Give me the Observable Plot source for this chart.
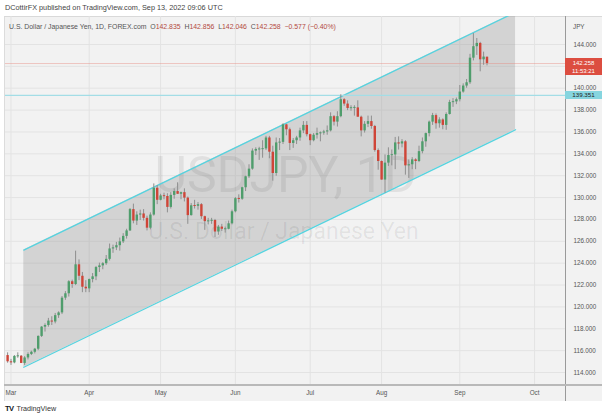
<!DOCTYPE html>
<html><head><meta charset="utf-8">
<script src="https://cdn.jsdelivr.net/npm/d3@7"></script>
<script src="https://cdn.jsdelivr.net/npm/@observablehq/plot@0.6"></script>
<style>
body{margin:0;background:#fff;font-family:"Liberation Sans",Arial,sans-serif;}
#wrap{position:relative;width:602px;height:418px;overflow:hidden;}
#bg{position:absolute;left:4px;top:16px;width:598px;height:385px;background:#f2f2f2;border-top:1px solid #d9d9d9;border-left:1px solid #dcdcdc;box-sizing:border-box;z-index:0;}
#chart{position:absolute;left:0;top:0;z-index:1;}
.abs{position:absolute;white-space:nowrap;z-index:3;}
#title{left:5px;top:3px;font-size:7.3px;color:#444;}
#legend{left:9px;top:23px;font-size:6.9px;color:#555;}
#legend .v{color:#b24a3e;}
#jpy{left:573px;top:23px;font-size:6.3px;color:#555;}
#vsep{position:absolute;left:565px;top:16px;width:1px;height:385px;background:#9a9a9a;z-index:2;}
#hsep{position:absolute;left:4px;top:384px;width:598px;height:1.5px;background:#b9b9b9;z-index:2;}
#logo{left:5px;top:404px;font-size:7.2px;color:#333;}
#logo b{font-size:7.6px;color:#131722;letter-spacing:-0.6px;margin-right:3px;}
.box{position:absolute;left:565px;width:37px;text-align:center;font-size:6.2px;z-index:3;box-sizing:border-box;}
</style></head><body><div id="wrap">
<div id="bg"></div>
<div id="vsep"></div><div id="hsep"></div>
<div class="abs" id="title">DCottirFX published on TradingView.com, Sep 13, 2022 09:06 UTC</div>
<div class="abs" id="legend">U.S. Dollar / Japanese Yen, 1D, FOREX.com &nbsp;O<span class="v">142.835</span> &nbsp;H<span class="v">142.856</span> &nbsp;L<span class="v">142.046</span> &nbsp;C<span class="v">142.258</span> &nbsp;<span class="v">−0.577 (−0.40%)</span></div>
<div class="abs" id="jpy">JPY</div>
<div class="abs" id="logo"><b>TV</b>TradingView</div>
</div>
<script>
// bar index 0 = Feb 28 2022 ... 141 = Sep 13 2022 (trading days)
const opens = [115.55,114.98,114.88,115.47,115.49,114.83,115.33,115.65,115.85,116.13,117.30,118.15,118.30,118.70,118.62,119.20,119.45,120.80,121.20,122.30,122.05,123.85,122.80,121.80,121.65,122.50,122.75,123.60,123.75,123.95,124.35,125.30,125.40,125.60,125.95,126.45,126.95,128.90,127.85,128.40,128.50,128.10,127.20,128.40,130.85,129.75,130.15,130.10,129.10,130.20,130.55,130.30,130.45,129.95,128.35,129.25,129.20,129.35,128.25,127.80,127.85,127.90,126.85,127.30,127.10,127.10,127.60,128.70,129.90,129.85,130.90,131.90,132.60,134.25,134.40,134.40,134.45,135.45,134.15,132.20,135.00,135.05,136.65,136.20,134.95,135.20,135.45,136.10,136.60,135.75,135.20,135.70,135.85,135.90,136.00,136.10,137.40,136.90,137.40,138.95,138.55,138.15,138.20,138.20,137.35,136.10,136.70,136.95,136.50,134.30,133.30,131.60,133.15,133.85,133.90,135.00,134.90,135.10,132.90,133.00,133.45,133.30,134.20,135.10,135.85,136.90,137.50,136.75,137.10,136.60,137.60,138.70,138.75,138.95,139.65,140.20,140.50,142.75,143.80,144.10,142.60,142.835];
const highs = [115.80,115.20,115.55,115.80,115.55,115.45,115.80,115.95,116.20,117.35,118.20,118.45,118.95,119.10,119.40,119.55,120.95,121.40,122.40,122.45,125.10,124.30,123.15,122.40,122.55,123.05,123.70,124.00,124.05,124.70,125.75,125.65,125.90,126.30,126.70,127.10,129.00,129.40,128.70,128.85,128.90,128.30,128.60,131.25,131.10,130.30,130.40,130.35,130.45,130.80,131.35,130.50,130.80,130.05,129.45,129.75,129.55,129.45,128.30,128.10,128.10,128.00,127.45,127.55,127.30,127.85,128.85,130.00,130.25,130.95,131.95,133.00,134.45,134.55,134.60,135.20,135.60,135.60,134.70,135.45,135.40,136.75,136.70,136.35,135.40,135.60,136.35,136.95,136.95,135.80,135.85,136.35,136.00,136.15,136.55,137.75,137.50,137.85,139.40,139.05,138.85,138.40,138.40,138.85,137.45,136.95,137.45,137.45,136.60,134.45,133.35,133.90,134.55,134.35,135.50,135.55,135.30,135.20,133.45,133.65,133.55,134.70,135.45,135.90,137.00,137.70,137.65,137.30,137.20,137.75,138.90,139.05,139.10,140.25,140.40,140.80,143.10,145.00,144.55,144.20,143.30,142.856];
const lows = [114.85,114.65,114.80,115.30,114.82,114.65,115.15,115.55,115.70,116.00,117.20,117.70,118.15,118.30,118.45,118.95,119.30,120.60,120.90,121.70,121.95,122.40,121.30,121.30,121.30,122.20,122.40,123.15,123.40,123.80,124.20,124.90,125.15,125.10,125.80,126.20,126.90,127.60,127.45,127.90,127.85,126.95,127.05,128.30,129.35,129.70,129.80,128.60,128.95,129.85,130.30,129.80,129.60,127.55,128.30,128.95,128.85,128.00,127.00,127.50,127.55,126.35,126.55,126.90,126.75,127.05,127.50,128.60,129.50,129.75,130.55,131.75,132.50,133.85,133.40,133.60,134.30,133.55,131.50,131.95,134.30,134.85,135.65,134.30,134.50,134.85,135.15,135.85,135.55,134.75,135.10,135.35,135.10,135.70,135.70,136.00,136.55,136.45,137.30,138.35,137.95,137.90,137.45,137.35,135.55,135.90,136.40,136.25,134.15,132.50,131.60,130.40,132.85,132.90,132.55,134.35,134.55,132.05,131.75,132.55,132.55,133.20,134.00,134.60,135.55,136.60,136.25,136.35,136.20,136.15,137.55,138.25,138.50,138.75,139.55,140.00,140.35,142.50,143.00,141.50,142.10,142.046];
const closes = [114.98,114.88,115.47,115.49,114.83,115.33,115.65,115.85,116.13,117.30,118.15,118.30,118.70,118.62,119.20,119.45,120.80,121.20,122.30,122.05,123.85,122.80,121.80,121.65,122.50,122.75,123.60,123.75,123.95,124.35,125.30,125.40,125.60,125.95,126.45,126.95,128.90,127.85,128.40,128.50,128.10,127.20,128.40,130.85,129.75,130.15,130.10,129.10,130.20,130.55,130.30,130.45,129.95,128.35,129.25,129.20,129.35,128.25,127.80,127.85,127.90,126.85,127.30,127.10,127.10,127.60,128.70,129.90,129.85,130.90,131.90,132.60,134.25,134.40,134.40,134.45,135.45,134.15,132.20,135.00,135.05,136.65,136.20,134.95,135.20,135.45,136.10,136.60,135.75,135.20,135.70,135.85,135.90,136.00,136.10,137.40,136.90,137.40,138.95,138.55,138.15,138.20,138.20,137.35,136.10,136.70,136.95,136.50,134.30,133.30,131.60,133.15,133.85,133.90,135.00,134.90,135.10,132.90,133.00,133.45,133.30,134.20,135.10,135.85,136.90,137.50,136.75,137.10,136.60,137.60,138.70,138.75,138.95,139.65,140.20,140.50,142.75,143.80,144.10,142.60,142.85,142.258];

const gridTicks = [114,116,118,120,122,124,126,128,130,132,134,136,138,140,142,144];
// 142.000 is hidden under the last-price label in the reference
const yTickLabels = [114,116,118,120,122,124,126,128,130,132,134,136,138,140,144];
const monthIdx = [1,24,45,67,89,110,133,155];
const monthLabels = ["Mar","Apr","May","Jun","Jul","Aug","Sep","Oct"];

const channelIdx = [4.76, 149.4];
const channelLow = [114.48, 136.2];
const channelHigh = [125.2, 146.95];

const lastPrice = 142.258;
const lastTime = "11:53:21";
const levelPrice = 139.351;

const bars = opens.map((o, i) => ({i, o, h: highs[i], l: lows[i], c: closes[i]}));
const chan = channelIdx.map((x, k) => ({x, lo: channelLow[k], hi: channelHigh[k]}));
const minB = 0.09;
const b1 = d => Math.abs(d.c - d.o) < minB ? (d.o + d.c) / 2 - minB / 2 : d.o;
const b2 = d => Math.abs(d.c - d.o) < minB ? (d.o + d.c) / 2 + minB / 2 : d.c;

const UP = "#4f9d6c", DOWN = "#cf4538";

const plot = Plot.plot({
  width: 602, height: 418,
  marginLeft: 5, marginRight: 37, marginTop: 16, marginBottom: 34,
  style: {background: "transparent", fontFamily: "Liberation Sans, Arial, sans-serif", color: "#555"},
  x: {domain: [1, 155], range: [10.5, 10.5 + 154 * 3.4]},
  y: {domain: [114, 144], range: [372, 44]},
  marks: [
    Plot.gridY(gridTicks, {stroke: "#e3e3e3", strokeOpacity: 1}),
    Plot.gridX(monthIdx, {stroke: "#e3e3e3", strokeOpacity: 1}),
    Plot.areaY(chan, {x: "x", y1: "lo", y2: "hi", fill: "#9c9c9c", fillOpacity: 0.36, clip: true}),
    Plot.text(["USDJPY, 1D"], {text: d => d, frameAnchor: "middle", dy: -25, fontSize: 50, fontFamily: "Roboto", fill: "#000", fillOpacity: 0.07}),
    Plot.text(["U.S. Dollar / Japanese Yen"], {text: d => d, frameAnchor: "middle", dy: 31, dx: -2, fontSize: 23, fontFamily: "Roboto", fill: "#000", fillOpacity: 0.07}),
    Plot.line(chan, {x: "x", y: "lo", stroke: "#55d3df", strokeWidth: 1.3, clip: true}),
    Plot.line(chan, {x: "x", y: "hi", stroke: "#55d3df", strokeWidth: 1.3, clip: true}),
    Plot.ruleY([levelPrice], {stroke: "#a3dde6", strokeWidth: 1.2}),
    Plot.ruleY([lastPrice], {stroke: "#e8877f", strokeOpacity: 0.55, strokeWidth: 0.8}),
    Plot.ruleX(bars, {x: "i", y1: "l", y2: "h", stroke: "#8e8e8e", strokeWidth: 1, clip: true}),
    Plot.ruleX(bars.filter(d => d.c >= d.o), {x: "i", y1: b1, y2: b2, stroke: UP, strokeWidth: 2.4, clip: true}),
    Plot.ruleX(bars.filter(d => d.c < d.o), {x: "i", y1: b1, y2: b2, stroke: DOWN, strokeWidth: 2.4, clip: true}),
    Plot.axisY({anchor: "right", ticks: yTickLabels, tickFormat: d => d.toFixed(3), tickSize: 0, tickPadding: 8, label: null, fontSize: 6.3, color: "#555"}),
    Plot.axisX({anchor: "bottom", ticks: monthIdx, tickFormat: d => monthLabels[monthIdx.indexOf(d)], tickSize: 0, tickPadding: 6, label: null, fontSize: 6.3, color: "#555"})
  ]
});
plot.id = "chart";
const wrap = document.getElementById("wrap");
wrap.appendChild(plot);

const ys = plot.scale("y");
const yRed = ys.apply(lastPrice);
const red = document.createElement("div");
red.className = "box";
red.style.cssText = `top:${yRed - 5}px;height:17px;background:#dc4d40;color:#fff;line-height:8px;padding-top:0.5px;font-size:6px;`;
red.innerHTML = `${lastPrice.toFixed(3)}<br>${lastTime}`;
wrap.appendChild(red);

const yCy = ys.apply(levelPrice);
const cy = document.createElement("div");
cy.className = "box";
cy.style.cssText = `top:${yCy - 4}px;height:8.5px;background:#86d5df;color:#222;line-height:8.5px;`;
cy.textContent = levelPrice.toFixed(3);
wrap.appendChild(cy);
</script>
</body></html>
